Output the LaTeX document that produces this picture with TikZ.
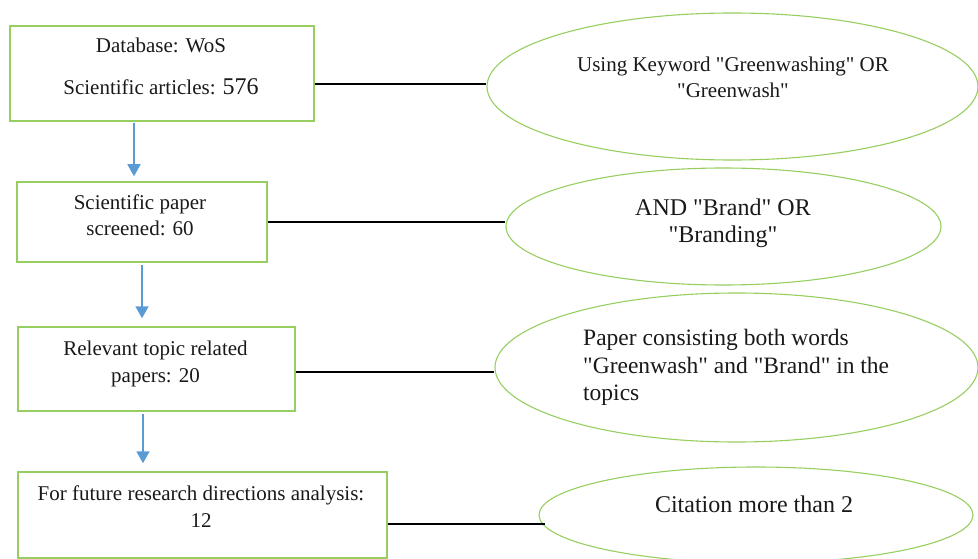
\documentclass[tikz,border=0pt]{standalone}
\usepackage{fontspec}
\setmainfont{Liberation Serif}
\usetikzlibrary{shapes.geometric,arrows.meta}
\definecolor{boxgreen}{RGB}{150,206,96}
\definecolor{arrblue}{RGB}{91,155,213}
\definecolor{txtcol}{RGB}{25,25,25}
\newcommand{\qmk}{\textquotedbl}
\begin{document}
\begin{tikzpicture}[x=1pt,y=-1pt,
  boxnode/.style={draw=boxgreen,line width=1.5pt,rectangle,inner sep=0pt},
  ellnode/.style={draw=boxgreen,line width=1.1pt,ellipse,inner sep=0pt},
  txt/.style={anchor=base,inner sep=0pt,text=txtcol,font=\fontsize{21}{25}\selectfont},
  bigtxt/.style={anchor=base,inner sep=0pt,text=txtcol,font=\fontsize{24}{28}\selectfont},
  conn/.style={line width=1.3pt,black},
  arr/.style={arrblue,line width=1.8pt,-{Triangle[width=13pt,length=12pt]}}]
\useasboundingbox (0,0) rectangle (978,559);
\clip (0,0) rectangle (978,559);

% boxes
\node[boxnode,minimum width=304pt,minimum height=95pt] (b1) at (162,73.5) {};
\node[boxnode,minimum width=250pt,minimum height=80pt] (b2) at (142,222) {};
\node[boxnode,minimum width=277pt,minimum height=84pt] (b3) at (156.5,369) {};
\node[boxnode,minimum width=369pt,minimum height=86pt] (b4) at (202.5,515) {};

% ellipses
\node[ellnode,minimum width=491pt,minimum height=147pt] (e1) at (732.5,86.5) {};
\node[ellnode,minimum width=435pt,minimum height=117pt] (e2) at (723.5,226.5) {};
\node[ellnode,minimum width=483pt,minimum height=149pt] (e3) at (736.5,367.5) {};
\node[ellnode,minimum width=434pt,minimum height=96pt] (e4) at (756,515) {};

% box texts
\node[txt] (t1a) at (161,53) {Database: WoS};
\node[txt] (t1b) at (161,95) {Scientific articles: {\fontsize{24}{28}\selectfont 576}};
\node[txt] (t2a) at (140,209) {Scientific paper};
\node[txt] (t2b) at (140,236) {screened: 60};
\node[txt] (t3a) at (155.5,355) {Relevant topic related};
\node[txt] (t3b) at (155.5,382) {papers: 20};
\node[txt] (t4a) at (201,500) {For future research directions analysis:};
\node[txt] (t4b) at (201,527) {12};

% ellipse texts
\node[txt] (u1a) at (733,72) {Using Keyword \qmk Greenwashing\qmk{} OR};
\node[txt] (u1b) at (733,98) {\qmk Greenwash\qmk};
\node[bigtxt] (u2a) at (723,215) {AND \qmk Brand\qmk{} OR};
\node[bigtxt] (u2b) at (723,242) {\qmk Branding\qmk};
\node[bigtxt,anchor=base west,font=\fontsize{23.5}{28}\selectfont] (u3a) at (583,345) {Paper consisting both words};
\node[bigtxt,anchor=base west,font=\fontsize{23.5}{28}\selectfont] (u3b) at (583,373) {\qmk Greenwash\qmk{} and \qmk Brand\qmk{} in the};
\node[bigtxt,anchor=base west,font=\fontsize{23.5}{28}\selectfont] (u3c) at (583,400) {topics};
\node[bigtxt] (u4a) at (754,512) {Citation more than 2};

% connectors
\draw[conn] ([yshift=-10.5pt]b1.east) -- ([yshift=-10.5pt]b1.east -| e1.west);
\draw[conn] (b2.east) -- (b2.east -| e2.west);
\draw[conn] ([yshift=-3pt]b3.east) -- ([yshift=-3pt]b3.east -| e3.west);
\draw[conn] ([yshift=-9pt]b4.east) -- ([yshift=-9pt,xshift=7pt]e4.west);

% arrows
\draw[arr] ([xshift=-28pt,yshift=-1pt]b1.south) -- ([xshift=-8pt,yshift=5pt]b2.north);
\draw[arr] ([yshift=-2pt]b2.south) -- ([xshift=-14.5pt,yshift=8pt]b3.north);
\draw[arr] ([xshift=-13.5pt,yshift=-2pt]b3.south) -- ([xshift=-59.5pt,yshift=8pt]b4.north);
\end{tikzpicture}
\end{document}
